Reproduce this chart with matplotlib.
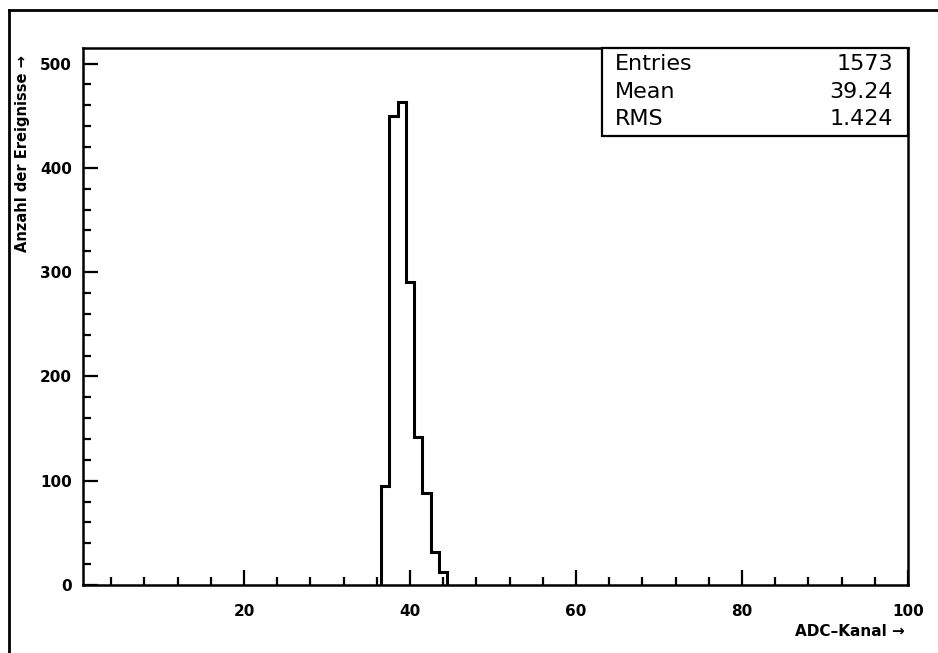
import numpy as np
import matplotlib.pyplot as plt
from matplotlib.lines import Line2D
from matplotlib.ticker import MultipleLocator

# ADC channel histogram (bins of width 1 centred on the channel number)
channels = [37, 38, 39, 40, 41, 42, 43, 44]
counts = [95, 450, 463, 291, 142, 88, 32, 12]

stat_names = ["Entries", "Mean", "RMS"]
stat_values = ["1573", "39.24", "1.424"]

W, H = 938, 653
fig = plt.figure(figsize=(W / 100, H / 100), dpi=100)
plt.rcParams['font.family'] = ['DejaVu Sans']

# axes box in pixels: left 83, right 908, top 48, bottom 585
ax = fig.add_axes([83 / W, 1 - 585 / H, (908 - 83) / W, (585 - 48) / H])

edges = np.append(np.array(channels) - 0.5, channels[-1] + 0.5)
ax.stairs(counts, edges, color='black', linewidth=2.2, baseline=0)

ax.set_xlim(0.6, 100)
ax.set_ylim(0, 515)

ax.xaxis.set_major_locator(MultipleLocator(20))
ax.xaxis.set_minor_locator(MultipleLocator(4))
ax.yaxis.set_major_locator(MultipleLocator(100))
ax.yaxis.set_minor_locator(MultipleLocator(20))

ax.tick_params(which='both', direction='in', width=1.6, top=False, right=False)
ax.tick_params(which='major', length=11)
ax.tick_params(which='minor', length=5.5)
ax.tick_params(axis='x', which='major', pad=14)
ax.tick_params(axis='y', which='major', pad=8)
for lab in ax.get_xticklabels() + ax.get_yticklabels():
    lab.set_fontweight('bold')
    lab.set_fontsize(11)
for s in ax.spines.values():
    s.set_linewidth(1.8)

# statistics box in the upper right corner
box_l, box_r, box_b = 602 / W, 908 / W, 1 - 136 / H
ax_top = 1 - 48 / H
fig.add_artist(plt.Rectangle((box_l, box_b), box_r - box_l, ax_top - box_b,
                             transform=fig.transFigure, fill=True,
                             facecolor='white', edgecolor='black', linewidth=1.6,
                             zorder=5))
row_y = [64, 92, 119]
for name, val, y in zip(stat_names, stat_values, row_y):
    fig.text(615 / W, 1 - y / H, name, fontsize=16, va='center', ha='left', zorder=6)
    fig.text(893 / W, 1 - y / H, val, fontsize=16, va='center', ha='right', zorder=6)

# axis titles
fig.text(23 / W, 1 - 55 / H, "Anzahl der Ereignisse \u2192", rotation=90,
         fontsize=10.5, fontweight='bold', ha='center', va='top')
fig.text(905 / W, 1 - 631 / H, "ADC\u2013Kanal \u2192", fontsize=11,
         fontweight='bold', ha='right', va='center')

# page frame (left and top edges)
fig.add_artist(Line2D([9 / W, 9 / W], [0, 1 - 10 / H], color='black',
                      linewidth=2, transform=fig.transFigure))
fig.add_artist(Line2D([9 / W, 1], [1 - 10 / H, 1 - 10 / H], color='black',
                      linewidth=2, transform=fig.transFigure))

fig.savefig("out.png", dpi=100)
